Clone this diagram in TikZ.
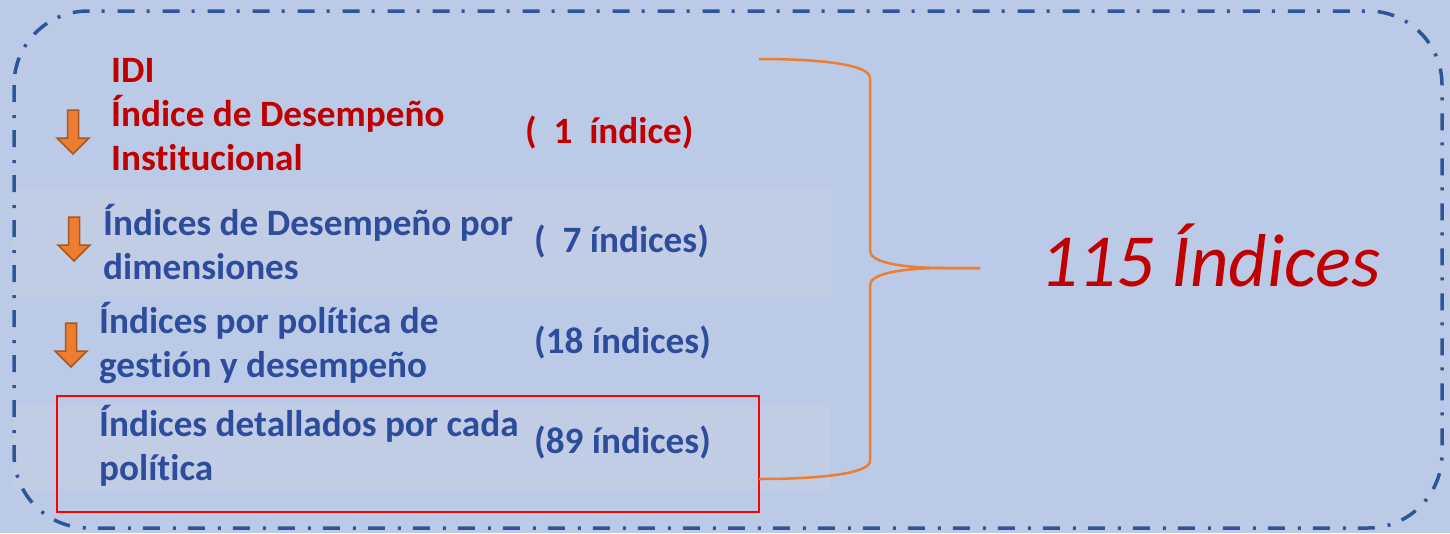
\documentclass[tikz,border=0pt]{standalone}
\usepackage{fontspec}
\setmainfont{Carlito}[Ligatures=NoCommon]
\usetikzlibrary{positioning,calc}
\definecolor{sky}{RGB}{187,203,231}
\definecolor{haze}{RGB}{193,205,228}
\definecolor{navy}{RGB}{47,85,151}
\definecolor{wine}{RGB}{192,0,0}
\definecolor{indigo}{RGB}{46,76,156}
\definecolor{tangerine}{RGB}{237,125,49}
\tikzset{
  tier/.style={anchor=base west,inner sep=0pt,align=left,text=#1,
    font=\fontsize{37.2}{44}\selectfont\bfseries},
  tier/.default=indigo,
  tally/.style={anchor=base west,inner sep=0pt,text=#1,
    font=\fontsize{37.2}{44}\selectfont\bfseries},
  tally/.default=indigo,
  band/.style={fill=haze,draw=none},
  frame/.style={draw=navy,line width=3.5pt,rounded corners=74pt,
    dash pattern=on 17pt off 13pt on 3pt off 12pt},
  bracket/.style={draw=tangerine,line width=2.5pt},
  focus box/.style={draw=red,line width=2.6pt},
  % pictograms
  pics/down/.style={code={
    \draw[fill=#1,draw=#1!70!black,line width=1.5pt,line join=miter]
      (-5.5,0) -- (5.5,0) -- (5.5,28) -- (16,28) -- (0,44) -- (-16,28) -- (-5.5,28) -- cycle;
  }},
  pics/down/.default=tangerine,
}
\begin{document}
\begin{tikzpicture}[x=1pt,y=-1pt]
  \fill[sky] (0,0) rectangle (1450,533);
  \useasboundingbox (0,0) rectangle (1450,533);
  \fill[band] (13,188) rectangle (831,295);
  \fill[band] (13,406) rectangle (830,490);
  \draw[frame] (14,11) rectangle (1442,528);

  \pic at (73,110) {down};
  \pic at (74,217) {down};
  \pic at (71,323) {down};

  % base anchor sits on the last line
  \node[tier=wine] (idi) at (111,170) {IDI\\Índice de Desempeño\\Institucional};
  \node[tier] (dim) at (103,279) {Índices de Desempeño por\\dimensiones};
  \node[tier] (pol) at (99,377) {Índices por política de\\gestión y desempeño};
  \node[tier] (det) at (99,480) {Índices detallados por cada\\política};

  \node[tally=wine] (n1) at (525,143) {(\ \ 1\ \ índice)};
  \node[tally] (n7) at (534,252) {(\ \ 7 índices)};
  \node[tally] (n18) at (534,353) {(18 índices)};
  \node[tally] (n89) at (534,453) {(89 índices)};

  \draw[focus box] (57,396) rectangle (759,512);

  \draw[bracket] (759,59) .. controls (830,59) and (870,66) .. (870,78) -- (870,251)
    .. controls (870,262) and (900,268) .. (945,268) -- (980,268);
  \draw[bracket] (980,268) -- (945,268) .. controls (900,268) and (870,274) .. (870,285)
    -- (870,461) .. controls (870,472) and (830,479) .. (759,479);

  \node[anchor=base west,inner sep=0pt,text=wine,font=\fontsize{75}{88}\selectfont\itshape]
    (total) at (1040,286) {115 Índices};
\end{tikzpicture}
\end{document}
